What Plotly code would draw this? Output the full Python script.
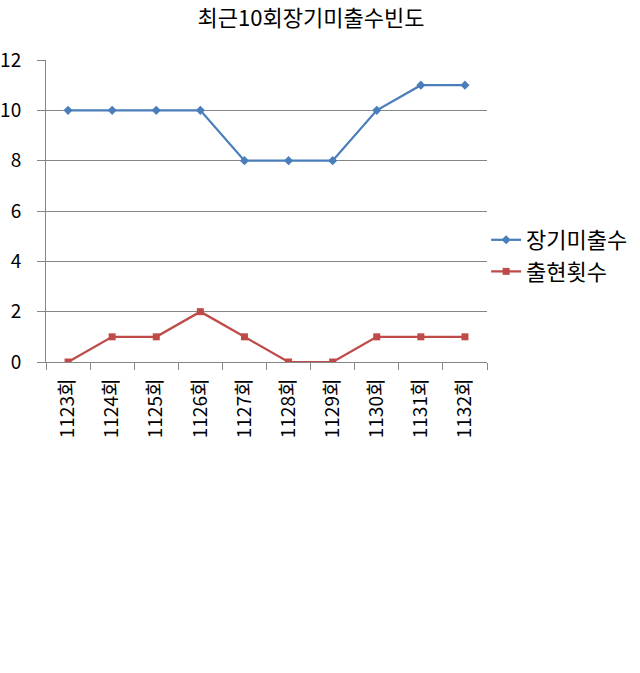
import plotly.graph_objects as go

categories = ["1123회", "1124회", "1125회", "1126회", "1127회", "1128회", "1129회", "1130회", "1131회", "1132회"]
long_absence = [10, 10, 10, 10, 8, 8, 8, 10, 11, 11]
appearances = [0, 1, 1, 2, 1, 0, 0, 1, 1, 1]
title_text = "최근10회장기미출수빈도"
series_names = ["장기미출수", "출현횟수"]

FONT = "Noto Sans CJK KR, Malgun Gothic, sans-serif"

fig = go.Figure()
fig.add_trace(go.Scatter(
    x=categories, y=long_absence, name=series_names[0], mode="lines+markers",
    line=dict(color="#4a7ebb", width=2.25),
    marker=dict(symbol="diamond", size=7, color="#4a7ebb"),
))
fig.add_trace(go.Scatter(
    x=categories, y=appearances, name=series_names[1], mode="lines+markers",
    line=dict(color="#be4b48", width=2.25),
    marker=dict(symbol="square", size=7, color="#be4b48"),
))

fig.update_layout(
    width=640, height=673,
    margin=dict(l=46, r=153, t=60, b=311, autoexpand=False),
    paper_bgcolor="white", plot_bgcolor="white",
    font=dict(family=FONT, size=18, color="#000000"),
    title=dict(text=title_text, x=311 / 640, xanchor="center", xref="container",
               y=1 - 18 / 673, yanchor="middle", yref="container",
               font=dict(size=22, family=FONT, color="#000000")),
    showlegend=True,
    legend=dict(x=0.998, xanchor="left", y=0.351, yanchor="middle",
                font=dict(size=22, family=FONT), bgcolor="rgba(0,0,0,0)",
                itemwidth=30),
)
fig.update_xaxes(
    type="category", showgrid=False, showline=True, linecolor="#868686", linewidth=1,
    ticks="outside", ticklen=7, tickcolor="#868686", tickson="boundaries",
    tickangle=-90, tickfont=dict(size=19, family=FONT), range=[-0.5, 9.5],
    ticklabelstandoff=8,
)
fig.update_yaxes(
    range=[0, 12], dtick=2, showgrid=True, gridcolor="#868686", gridwidth=1,
    showline=True, linecolor="#868686", linewidth=1,
    ticks="outside", ticklen=8, tickcolor="#868686",
    tickfont=dict(size=19, family=FONT), zeroline=False,
    ticklabelstandoff=12,
)

fig.write_html("out.html", config={"displayModeBar": False},
               post_script="document.body.style.margin='0';")
